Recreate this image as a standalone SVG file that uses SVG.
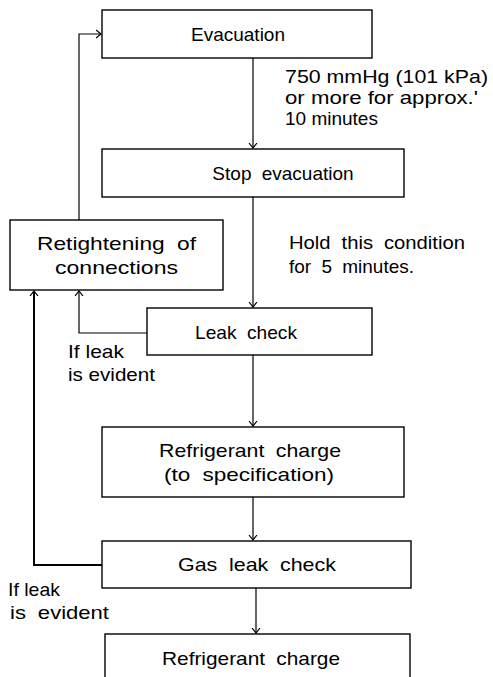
<svg xmlns="http://www.w3.org/2000/svg" width="493" height="677" viewBox="0 0 493 677">
<defs>
<marker id="ah" markerWidth="10" markerHeight="10" refX="5" refY="5" orient="auto" markerUnits="userSpaceOnUse">
<polyline points="0,1 5,5 0,9" fill="none" stroke="#000" stroke-width="1.2"/>
</marker>
</defs>
<style>
rect{fill:#fff;stroke:#000;stroke-width:1.4}
text{font-family:"Liberation Sans",Arial,sans-serif;font-size:19px;fill:#000}
.w{word-spacing:5px}
.c{text-anchor:middle}
.ln{fill:none;stroke:#000;stroke-width:1.2}
</style>
<rect x="0" y="0" width="493" height="677" style="stroke:none"/>
<g id="connectors">
<line class="ln" x1="253" y1="58" x2="253" y2="148" marker-end="url(#ah)"/>
<line class="ln" x1="253" y1="197" x2="253" y2="307" marker-end="url(#ah)"/>
<line class="ln" x1="253" y1="355" x2="253" y2="426" marker-end="url(#ah)"/>
<line class="ln" x1="253" y1="497" x2="253" y2="540" marker-end="url(#ah)"/>
<line class="ln" x1="256" y1="588" x2="256" y2="633" marker-end="url(#ah)"/>
<polyline class="ln" points="79,220 79,34 101,34" marker-end="url(#ah)"/>
<polyline class="ln" points="147,333 79,333 79,291" marker-end="url(#ah)"/>
<polyline class="ln" points="102,565 34,565 34,291" marker-end="url(#ah)" style="stroke-width:2"/>
</g>
<g id="evacuation">
<rect x="102" y="10" width="270" height="48"/>
<text class="c" x="238" y="41">Evacuation</text>
</g>
<g id="note1">
<text x="285" y="83" textLength="203" lengthAdjust="spacingAndGlyphs">750 mmHg (101 kPa)</text>
<text x="285" y="104" textLength="193" lengthAdjust="spacingAndGlyphs">or more for approx.'</text>
<text x="285" y="125">10 minutes</text>
</g>
<g id="stop-evacuation">
<rect x="102" y="149" width="302" height="48"/>
<text class="c w" x="283" y="180">Stop evacuation</text>
</g>
<g id="retightening">
<rect x="10" y="220" width="213" height="70"/>
<text class="w" x="37" y="250" textLength="159" lengthAdjust="spacingAndGlyphs">Retightening of</text>
<text x="55" y="274" textLength="123" lengthAdjust="spacingAndGlyphs">connections</text>
</g>
<g id="note2">
<text class="w" x="289" y="249" textLength="176" lengthAdjust="spacingAndGlyphs">Hold this condition</text>
<text class="w" x="289" y="273" textLength="125" lengthAdjust="spacingAndGlyphs">for 5 minutes.</text>
</g>
<g id="leak-check">
<rect x="147" y="308" width="225" height="47"/>
<text class="w" x="195" y="339" textLength="102" lengthAdjust="spacingAndGlyphs">Leak check</text>
</g>
<g id="note3">
<text x="68" y="358" textLength="56" lengthAdjust="spacingAndGlyphs">If leak</text>
<text x="68" y="381" textLength="87" lengthAdjust="spacingAndGlyphs">is evident</text>
</g>
<g id="refrigerant-charge-spec">
<rect x="102" y="427" width="302" height="70"/>
<text class="w" x="159" y="457" textLength="182" lengthAdjust="spacingAndGlyphs">Refrigerant charge</text>
<text class="w" x="164" y="481" textLength="170" lengthAdjust="spacingAndGlyphs">(to specification)</text>
</g>
<g id="gas-leak-check">
<rect x="102" y="541" width="309" height="47"/>
<text class="w" x="178" y="571" textLength="158" lengthAdjust="spacingAndGlyphs">Gas leak check</text>
</g>
<g id="note4">
<text x="8" y="596" textLength="52" lengthAdjust="spacingAndGlyphs">If leak</text>
<text class="w" x="10" y="619" textLength="99" lengthAdjust="spacingAndGlyphs">is evident</text>
</g>
<g id="refrigerant-charge">
<rect x="105" y="634" width="305" height="60"/>
<text class="w" x="162" y="665" textLength="178" lengthAdjust="spacingAndGlyphs">Refrigerant charge</text>
</g>
</svg>
